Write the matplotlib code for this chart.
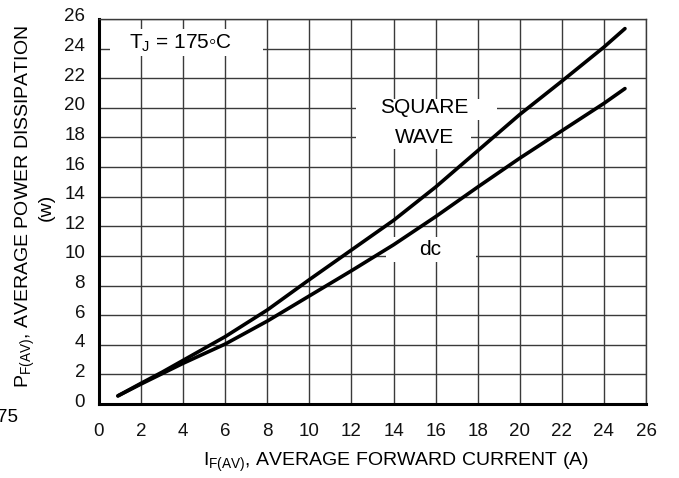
import matplotlib
matplotlib.use("Agg")
import matplotlib.pyplot as plt
from matplotlib.patches import Rectangle
from matplotlib.transforms import ScaledTranslation

plt.rcParams['font.family'] = ['Liberation Sans', 'DejaVu Sans']

# current (A) vs average power dissipation (W)
sq_x = [0.9, 2.0, 3.0, 4.0, 6.0, 8.0, 10.0, 12.0, 14.0, 16.0, 18.0, 20.0, 22.0, 24.0, 25.0]
sq_y = [0.55, 1.4, 2.15, 2.95, 4.55, 6.35, 8.4, 10.4, 12.4, 14.65, 17.1, 19.55, 21.8, 24.1, 25.35]

dc_x = [0.9, 2.0, 3.0, 4.0, 6.0, 8.0, 10.0, 12.0, 14.0, 16.0, 18.0, 20.0, 22.0, 24.0, 25.0]
dc_y = [0.55, 1.35, 2.05, 2.75, 4.05, 5.6, 7.3, 9.0, 10.75, 12.65, 14.65, 16.6, 18.45, 20.3, 21.3]

ticks = list(range(0, 27, 2))

fig = plt.figure(figsize=(6.79, 4.78), dpi=100)
ax = fig.add_axes([0.1458, 0.1548, 0.8056, 0.8055])

ax.set_xlim(0, 26)
ax.set_ylim(0, 26)
ax.set_xticks(ticks)
ax.set_yticks(ticks)
ax.tick_params(length=0, labelsize=13.5, pad=10, colors='#111111')
ax.tick_params(axis='x', pad=14)

# y tick labels sit a little above their grid lines in the reference
for lab in ax.get_yticklabels():
    lab.set_transform(lab.get_transform() + ScaledTranslation(0, 4 / 100, fig.dpi_scale_trans))

ax.set_axisbelow(True)
ax.grid(True, color='#3a3a3a', lw=1.0)

for s in ['top', 'right']:
    ax.spines[s].set_linewidth(1.0)
    ax.spines[s].set_color('#3a3a3a')
for s in ['left', 'bottom']:
    ax.spines[s].set_linewidth(2.2)
    ax.spines[s].set_color('black')

# white boxes behind the labels, hiding the grid
boxes = [(0.52, 23.5, 7.28, 1.8),
         (12.2, 19.2, 6.7, 1.4),
         (12.2, 17.2, 5.5, 2.0),
         (13.65, 9.6, 4.25, 1.7)]
for bx, by, bw, bh in boxes:
    ax.add_patch(Rectangle((bx, by), bw, bh, facecolor='white', edgecolor='none', zorder=1))

ax.plot(sq_x, sq_y, color='black', lw=2.6, solid_capstyle='round', solid_joinstyle='round', zorder=3)
ax.plot(dc_x, dc_y, color='black', lw=2.6, solid_capstyle='round', solid_joinstyle='round', zorder=3)

ax.text(3.86, 24.0, r'T$_\mathregular{J}$ = 175◦C', fontsize=15, ha='center', va='baseline', zorder=2)
ax.text(15.48, 20.0, 'SQUARE', fontsize=15, ha='center', va='center', zorder=2)
ax.text(15.48, 18.0, 'WAVE', fontsize=15, ha='center', va='center', zorder=2)
ax.text(15.76, 10.05, 'dc', fontsize=15, ha='center', va='baseline', zorder=2)

fig.text(396 / 679, 1 - 462 / 478, r'I$_\mathregular{F(AV)}$, AVERAGE FORWARD CURRENT (A)',
         fontsize=14, ha='center', va='center')
fig.text(34 / 679, 1 - 207 / 478,
         'P$_\\mathregular{F(AV)}$, AVERAGE POWER DISSIPATION\n(w)',
         fontsize=14, ha='center', va='center', rotation=90, linespacing=1.1)

# stray label from the neighbouring chart, clipped at the left edge
fig.text(18 / 679, 1 - 418 / 478, '75', fontsize=13.5, ha='right', va='center')

fig.savefig('out.png', dpi=100)
